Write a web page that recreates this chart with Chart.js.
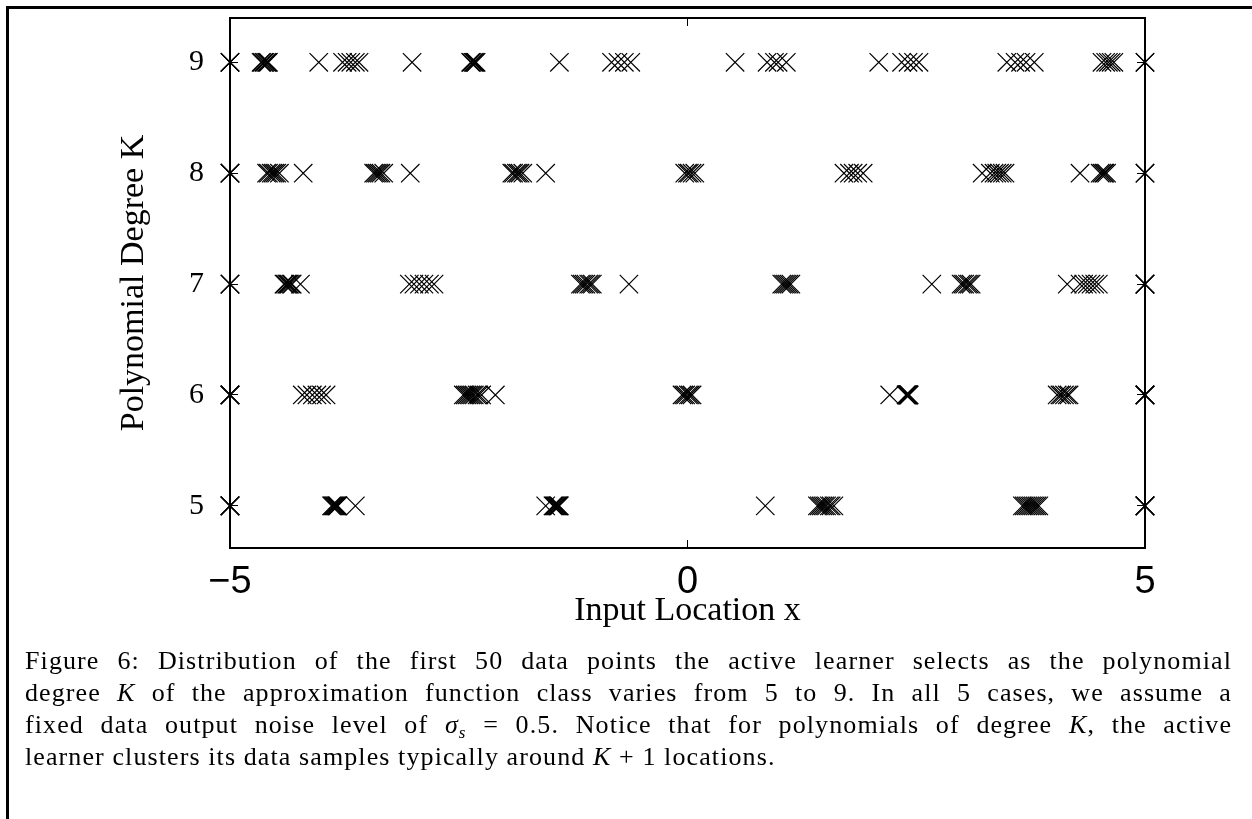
<!DOCTYPE html>
<html>
<head>
<meta charset="utf-8">
<script src="https://cdn.jsdelivr.net/npm/chart.js@4.4.1/dist/chart.umd.min.js"></script>
<style>
  html, body { margin: 0; padding: 0; background: #fff; }
  #page { position: relative; width: 1252px; height: 819px; overflow: hidden; }
  #frame { position: absolute; left: 6px; top: 6px; width: 1300px; height: 900px;
           border-top: 3px solid #000; border-left: 3px solid #000; }
  #plot { position: absolute; left: 0; top: 0; }
  #caption { position: absolute; left: 25px; top: 645px; width: 1207px;
             font-family: 'Liberation Serif', 'DejaVu Serif', serif; font-size: 26px;
             line-height: 32px; color: #000; letter-spacing: 1.1px; }
  #caption .j { text-align: justify; text-align-last: justify; white-space: nowrap; height: 32px; }
  #caption .l { text-align: left; white-space: nowrap; height: 32px; }
  #caption i { font-style: italic; }
  #caption .sub { font-size: 17px; position: relative; top: 5px; line-height: 0; }
</style>
</head>
<body>
<div id="page">
  <div id="frame"></div>
  <canvas id="plot" width="1252" height="650"></canvas>
  <div id="caption">
    <div class="j">Figure 6: Distribution of the first 50 data points the active learner selects as the polynomial</div>
    <div class="j">degree <i>K</i> of the approximation function class varies from 5 to 9. In all 5 cases, we assume a</div>
    <div class="j">fixed data output noise level of <i>σ<span class="sub">s</span></i> = 0.5. Notice that for polynomials of degree <i>K</i>, the active</div>
    <div class="l">learner clusters its data samples typically around <i>K</i> + 1 locations.</div>
  </div>
</div>
<script>
// polynomial degrees (one row of samples each)
const degrees = [5, 6, 7, 8, 9];

// x locations of the first 50 samples chosen for each degree
const samplesK5 = [-5, -5, -5, -5, -5,
  -3.89, -3.88, -3.87, -3.86, -3.85, -3.84, -3.83, -3.83, -3.82,
  -3.63,
  -1.55,
  -1.47, -1.46, -1.45, -1.44, -1.43, -1.42, -1.41, -1.41, -1.40,
  0.85,
  1.42, 1.44, 1.46, 1.48, 1.50, 1.52, 1.55, 1.57, 1.60,
  3.66, 3.68, 3.70, 3.72, 3.74, 3.76, 3.78, 3.80, 3.82, 3.84,
  5, 5, 5, 5, 5];

const samplesK6 = [-5, -5, -5, -5, -5,
  -4.21, -4.16, -4.10, -4.05, -4.00, -3.95,
  -2.45, -2.43, -2.41, -2.39, -2.37, -2.35, -2.33, -2.30, -2.28, -2.25,
  -2.10,
  -0.06, -0.04, -0.02, 0.01, 0.03, 0.05,
  2.21,
  2.39, 2.39, 2.40, 2.40, 2.41, 2.41, 2.41, 2.42, 2.42, 2.42,
  4.04, 4.07, 4.09, 4.12, 4.15, 4.17,
  5, 5, 5, 5, 5];

const samplesK7 = [-5, -5, -5,
  -4.41, -4.40, -4.38, -4.37, -4.36, -4.35, -4.33, -4.32,
  -4.23,
  -3.04, -2.99, -2.93, -2.88, -2.82, -2.77,
  -1.17, -1.15, -1.13, -1.11, -1.08, -1.06, -1.04,
  -0.64,
  1.03, 1.05, 1.07, 1.09, 1.11, 1.13,
  2.67,
  2.99, 3.01, 3.03, 3.06, 3.08, 3.10,
  4.15,
  4.29, 4.33, 4.37, 4.41, 4.45, 4.49,
  5, 5, 5, 5];

const samplesK8 = [-5, -5, -5,
  -4.60, -4.58, -4.55, -4.53, -4.51, -4.49, -4.46,
  -4.20,
  -3.43, -3.41, -3.39, -3.37, -3.35, -3.32,
  -3.03,
  -1.92, -1.90, -1.87, -1.85, -1.83, -1.80,
  -1.55,
  -0.03, 0.00, 0.02, 0.05, 0.08,
  1.71, 1.77, 1.81, 1.86, 1.92,
  3.22,
  3.31, 3.35, 3.38, 3.41, 3.44, 3.47,
  4.29,
  4.51, 4.53, 4.55, 4.56, 4.58,
  5, 5];

const samplesK9 = [-5, -5, -5,
  -4.66, -4.65, -4.63, -4.62, -4.60, -4.59, -4.58,
  -4.03,
  -3.77, -3.72, -3.68, -3.63, -3.59,
  -3.01,
  -2.37, -2.36, -2.34, -2.33, -2.32, -2.31,
  -1.40,
  -0.83, -0.76, -0.69, -0.62,
  0.52,
  0.87, 0.95, 0.99, 1.08,
  2.09,
  2.34, 2.41, 2.47, 2.53,
  3.49, 3.58, 3.64, 3.70, 3.79,
  4.53, 4.57, 4.60, 4.63, 4.66,
  5, 5];

const xTicks = [-5, 0, 5];
const yTicks = [5, 6, 7, 8, 9];

const samples = [samplesK5, samplesK6, samplesK7, samplesK8, samplesK9];

const serif = "'Liberation Serif', 'DejaVu Serif', serif";
const narrow = "'Liberation Sans Narrow', 'Liberation Sans', sans-serif";

// top and right edges of the box, no labels
const frameAxis = (pos) => ({
  position: pos,
  min: pos === 'top' ? -5 : 4.62,
  max: pos === 'top' ? 5 : 9.4,
  ticks: { display: false, stepSize: pos === 'top' ? 5 : 1, includeBounds: false },
  grid: { drawOnChartArea: false, tickLength: -8, color: '#000', lineWidth: 1 },
  border: { color: '#000', width: 2 },
  afterFit: s => {
    if (pos === 'top') s.height = 0; else s.width = 0;
    s.paddingTop = s.paddingBottom = s.paddingLeft = s.paddingRight = 0;
  }
});

new Chart(document.getElementById('plot'), {
  type: 'scatter',
  data: {
    datasets: degrees.map((k, i) => ({
      label: 'K = ' + k,
      data: samples[i].map(x => ({ x: x, y: k })),
      pointStyle: 'crossRot',
      pointRadius: 13,
      pointHoverRadius: 13,
      borderColor: '#000',
      backgroundColor: '#000',
      borderWidth: 1.2,
      clip: false
    }))
  },
  options: {
    responsive: false,
    animation: false,
    layout: { padding: { left: 114, top: 18, right: 107, bottom: 2 } },
    plugins: { legend: { display: false }, tooltip: { enabled: false } },
    scales: {
      x: {
        type: 'linear',
        min: -5, max: 5,
        afterBuildTicks: s => { s.ticks = xTicks.map(v => ({ value: v })); },
        ticks: {
          color: '#000', padding: 20, maxRotation: 0,
          font: { family: narrow, size: 38 },
          callback: v => v < 0 ? '\u2212' + Math.abs(v) : String(v)
        },
        grid: { drawOnChartArea: false, tickLength: -8, color: '#000', lineWidth: 1 },
        border: { color: '#000', width: 2 },
        title: {
          display: true, text: 'Input Location x', color: '#000',
          font: { family: serif, size: 34 }, padding: { top: 0, bottom: 17 }
        },
        afterFit: s => {
          s.height = 100;
          s.paddingLeft = s.paddingRight = 0;
        }
      },
      y: {
        type: 'linear',
        min: 4.62, max: 9.4,
        afterBuildTicks: s => { s.ticks = yTicks.map(v => ({ value: v })); },
        ticks: { color: '#000', padding: 34, font: { family: serif, size: 30 } },
        grid: { drawOnChartArea: false, tickLength: -8, color: '#000', lineWidth: 1 },
        border: { color: '#000', width: 2 },
        title: {
          display: true, text: 'Polynomial Degree K', color: '#000',
          font: { family: serif, size: 34 }, padding: { top: 0, bottom: 0 }
        },
        afterFit: s => {
          s.width = 116;
          s.paddingTop = s.paddingBottom = 0;
        }
      },
      xTop: frameAxis('top'),
      yRight: frameAxis('right')
    }
  }
});
</script>
</body>
</html>
